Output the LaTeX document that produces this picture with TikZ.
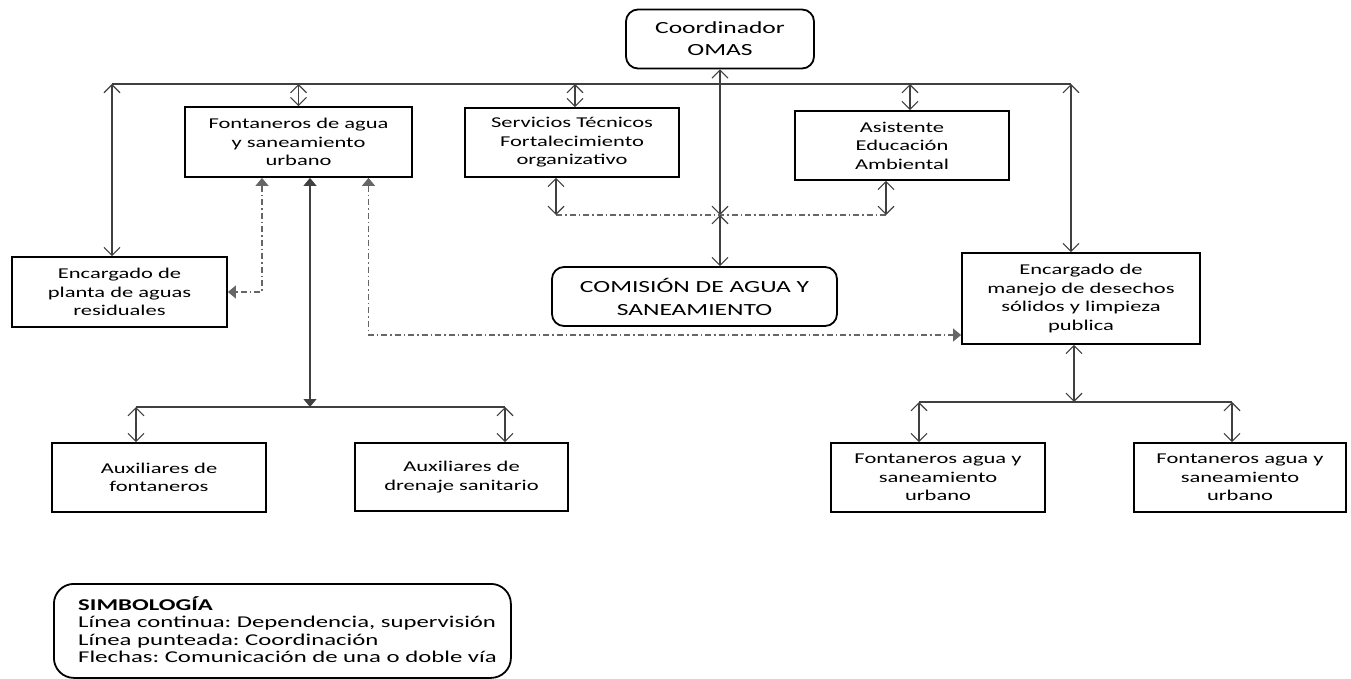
\documentclass[tikz,border=0pt]{standalone}
\usepackage{fontspec}
\setmainfont{Carlito}[FakeStretch=1.5]
\usetikzlibrary{positioning,arrows.meta}
\frenchspacing

\begin{document}
\begin{tikzpicture}[x=1pt, y=-1pt,
  box/.style={draw, line width=1.8pt, align=center, inner sep=0pt, font=\fontsize{15}{18.5}\selectfont},
  rbox/.style={box, rounded corners=12pt},
  link/.style={draw=black!75, line width=1.1pt},
  vv/.style={link, {Straight Barb[length=8pt,width=16pt]}-{Straight Barb[length=8pt,width=16pt]}},
  tt/.style={link, {Triangle[length=8pt,width=13pt]}-{Triangle[length=8pt,width=13pt]}},
  dd/.style={link, draw=black!60, dash pattern=on 6pt off 3pt on 1.5pt off 3pt}]
\useasboundingbox (0,0) rectangle (1351,679);

% cajas
\node[rbox, minimum width=188pt, minimum height=59pt, font=\fontsize{17}{22}\selectfont] (coord) at (720,39) {Coordinador\\OMAS};
\node[box, minimum width=227pt, minimum height=70pt] (fa) at (298.5,142) {Fontaneros de agua\\y saneamiento\\urbano};
\node[box, minimum width=214pt, minimum height=69pt] (st) at (572,142.5) {Servicios Técnicos\\Fortalecimiento\\organizativo};
\node[box, minimum width=214pt, minimum height=69pt] (ea) at (902,145.5) {Asistente\\Educación\\Ambiental};
\node[box, minimum width=215pt, minimum height=70pt] (pa) at (119.5,292) {Encargado de\\planta de aguas\\residuales};
\node[rbox, minimum width=285pt, minimum height=59pt, font=\fontsize{17}{23}\selectfont] (cas) at (694.5,296.5) {COMISIÓN DE AGUA Y\\SANEAMIENTO};
\node[box, minimum width=238pt, minimum height=91pt] (dm) at (1081,298.5) {Encargado de\\manejo de desechos\\sólidos y limpieza\\publica};
\node[box, minimum width=214pt, minimum height=69pt] (auxf) at (159,477.5) {Auxiliares de\\fontaneros};
\node[box, minimum width=213pt, minimum height=68pt] (auxd) at (461.5,477) {Auxiliares de\\drenaje sanitario};
\node[box, minimum width=214pt, minimum height=69pt] (fau1) at (938,477.5) {Fontaneros agua y\\saneamiento\\urbano};
\node[box, minimum width=212pt, minimum height=69pt] (fau2) at (1240,477.5) {Fontaneros agua y\\saneamiento\\urbano};

% puntos de union
\coordinate (tl) at (112,84);
\coordinate (tr) at (1071,84);
\coordinate (jl) at (556,215);
\coordinate (jn) at (720,215);
\coordinate (jr) at (886,215);
\coordinate (bm) at (310,407);
\coordinate (bl) at (136,407);
\coordinate (br) at (505,407);
\coordinate (rl) at (919,402);
\coordinate (rr) at (1232,402);

% linea superior
\draw[link] (tl) -- (tr);
\draw[vv] (tl) -- (pa.north -| tl);
\draw[vv] (fa.north |- tl) -- (fa.north);
\draw[vv] ([xshift=3pt]st.north |- tl) -- ([xshift=3pt]st.north);
\draw[vv] ([xshift=8pt]ea.north |- tl) -- ([xshift=8pt]ea.north);
\draw[vv] (tr) -- (dm.north -| tr);
\draw[vv] (coord.south) -- (jn);

% coordinacion central
\draw[dd] (jl) -- (jr);
\draw[vv] (st.south -| jl) -- (jl);
\draw[vv] (ea.south -| jr) -- (jr);
\draw[vv] (jn) -- (cas.north -| jn);

% fontaneros
\draw[dd, {Triangle[length=8pt,width=13pt]}-{Triangle[length=8pt,width=13pt]}] ([xshift=-36.5pt]fa.south) |- (pa.east);
\draw[dd, {Triangle[length=8pt,width=13pt]}-{Triangle[length=8pt,width=13pt]}] ([xshift=70pt]fa.south) |- ([yshift=-36.5pt]dm.west);
\draw[tt] (fa.south -| bm) -- (bm);
\draw[link] (bl) -- (br);
\draw[vv] (bl) -- (auxf.north -| bl);
\draw[vv] (br) -- (auxd.north -| br);

% desechos solidos
\draw[vv] (dm.south -| 1074,0) -- (rl -| 1074,0);
\draw[link] (rl) -- (rr);
\draw[vv] (rl) -- (fau1.north -| rl);
\draw[vv] (rr) -- (fau2.north -| rr);

% simbologia
\node[draw, line width=1.8pt, rounded corners=20pt, anchor=north west, minimum width=457pt,
  minimum height=94pt] (simb) at (53,583) {};
\node[anchor=north west, inner sep=0pt, align=left, font=\fontsize{16.5}{17.5}\selectfont] (simbtxt) at (78,596)
  {\textbf{SIMBOLOGÍA}\\Línea continua: Dependencia, supervisión\\Línea punteada: Coordinación\\Flechas: Comunicación de una o doble vía};
\end{tikzpicture}
\end{document}
